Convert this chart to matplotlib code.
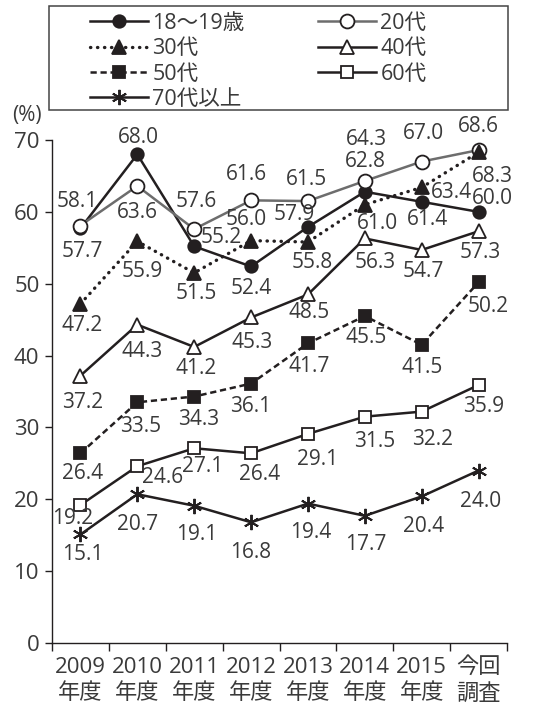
import matplotlib.pyplot as plt
from matplotlib.patches import Rectangle
import numpy as np

plt.rcParams['font.family'] = ['Open Sans', 'Noto Sans CJK JP', 'DejaVu Sans']

# データ
years = ['2009\n年度', '2010\n年度', '2011\n年度', '2012\n年度',
         '2013\n年度', '2014\n年度', '2015\n年度', '今回\n調査']
names = ['18〜19歳', '20代', '30代', '40代', '50代', '60代', '70代以上']
v18 = [57.7, 68.0, 55.2, 52.4, 57.9, 62.8, 61.4, 60.0]
v20 = [58.1, 63.6, 57.6, 61.6, 61.5, 64.3, 67.0, 68.6]
v30 = [47.2, 55.9, 51.5, 56.0, 55.8, 61.0, 63.4, 68.3]
v40 = [37.2, 44.3, 41.2, 45.3, 48.5, 56.3, 54.7, 57.3]
v50 = [26.4, 33.5, 34.3, 36.1, 41.7, 45.5, 41.5, 50.2]
v60 = [19.2, 24.6, 27.1, 26.4, 29.1, 31.5, 32.2, 35.9]
v70 = [15.1, 20.7, 19.1, 16.8, 19.4, 17.7, 20.4, 24.0]

# ラベル位置 (dx, dy: 画面上 px, 下が正)
off18 = [(2, 23), (1, -17), (27, -9), (0, 22), (-14, -12), (1, -30), (6, 18), (14, -13)]
off20 = [(-3, -24), (0, 27), (2, -28), (-5, -26), (-1, -22), (2, -41), (2, -28), (0, -24)]
off30 = [(2, 22), (5, 30), (2, 21), (-5, -21), (4, 20), (13, 19), (30, 5), (14, 24)]
off40 = [(2, 27), (5, 27), (2, 22), (1, 25), (1, 18), (10, 24), (2, 22), (2, 21)]
off50 = [(2, 20), (3, 24), (4, 23), (0, 23), (1, 23), (1, 21), (1, 23), (10, 24)]
off60 = [(-8, 13), (25, 11), (8, 18), (8, 21), (10, 26), (10, 25), (11, 28), (5, 21)]
off70 = [(2, 20), (0, 30), (2, 29), (0, 30), (3, 29), (1, 29), (2, 30), (2, 31)]

BLACK = '#231f20'
GRAY = '#6d6d6d'
TXT = '#3a3a3a'

styles = [
    dict(color=BLACK, ls='-', marker='o', mfc=BLACK, mec=BLACK, ms=9),
    dict(color=GRAY, ls='-', marker='o', mfc='white', mec=BLACK, ms=10),
    dict(color=BLACK, ls=(0, (0.1, 2.0)), marker='^', mfc=BLACK, mec=BLACK, ms=10,
         dash_capstyle='round', lw=2.4),
    dict(color=BLACK, ls='-', marker='^', mfc='white', mec=BLACK, ms=10),
    dict(color=BLACK, ls=(0, (2.5, 1.5)), marker='s', mfc=BLACK, mec=BLACK, ms=9),
    dict(color=BLACK, ls='-', marker='s', mfc='white', mec=BLACK, ms=9),
    dict(color=BLACK, ls='-', marker=(6, 2, 0), mfc=BLACK, mec=BLACK, ms=11, mew=1.4),
]
values = [v18, v20, v30, v40, v50, v60, v70]
offsets = [off18, off20, off30, off40, off50, off60, off70]

fig = plt.figure(figsize=(5.4, 7.04), dpi=100)
ax = fig.add_axes([52/540, 1-643/704, (507-52)/540, (643-140)/704])

x = np.arange(len(years))
lines = []
for name, vals, st in zip(names, values, styles):
    kw = dict(lw=1.8, mew=1.3)
    kw.update(st)
    ln, = ax.plot(x, vals, label=name, clip_on=False, **kw)
    lines.append(ln)

for vals, offs in zip(values, offsets):
    for xi, v, (dx, dy) in zip(x, vals, offs):
        ax.annotate(f'{v:.1f}', (xi, v), xytext=(dx, -dy), textcoords='offset pixels',
                    ha='center', va='center', fontsize=15, color=TXT)

ax.set_xlim(-0.5, 7.5)
ax.set_ylim(0, 70)
ax.set_yticks(range(0, 71, 10))
ax.set_xticks(x)
ax.set_xticklabels(years, linespacing=1.35)
ax.set_xticks(np.arange(-0.5, 8, 1), minor=True)
ax.tick_params(axis='x', which='major', length=0, pad=10, labelsize=16, labelcolor=TXT)
ax.tick_params(axis='x', which='minor', length=6, width=1, color=BLACK, direction='out')
ax.tick_params(axis='y', length=5, width=1, color=BLACK, labelsize=16, labelcolor=TXT, pad=4)
for s in ['top', 'right']:
    ax.spines[s].set_visible(False)
for s in ['left', 'bottom']:
    ax.spines[s].set_color(BLACK)
    ax.spines[s].set_linewidth(1)

fig.text(27/540, 1-116/704, '(%)', ha='center', va='center', fontsize=15, color=TXT)

# 凡例
fig.patches.append(Rectangle((49/540, 1-110/704), (508-49)/540, 104/704,
                             transform=fig.transFigure, fill=False,
                             edgecolor='#444444', lw=1.1))
leg_kw = dict(loc='upper left', frameon=False, fontsize=15.5, handlelength=2.7,
              handletextpad=0.2, labelspacing=0.2, borderpad=0, borderaxespad=0,
              labelcolor=TXT)
col1 = [lines[i] for i in (0, 2, 4, 6)]
col2 = [lines[i] for i in (1, 3, 5)]
fig.legend(col1, [l.get_label() for l in col1], bbox_to_anchor=(90/540, 1-13/704), **leg_kw)
fig.legend(col2, [l.get_label() for l in col2], bbox_to_anchor=(318/540, 1-13/704), **leg_kw)

fig.savefig('out.png', dpi=100, facecolor='white')
